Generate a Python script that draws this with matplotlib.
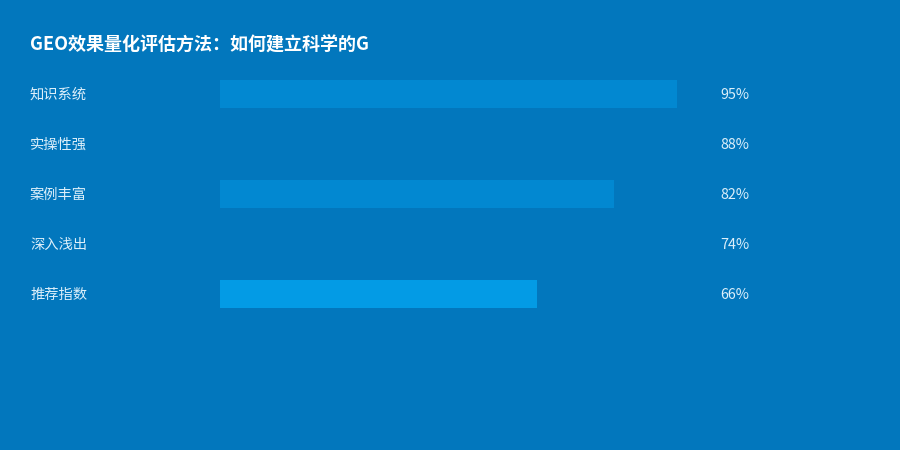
import matplotlib.pyplot as plt
import matplotlib.transforms as mtransforms

plt.rcParams['font.family'] = ['Noto Sans CJK SC', 'DejaVu Sans']

categories = ["知识系统", "实操性强", "案例丰富", "深入浅出", "推荐指数"]
values = [95, 88, 82, 74, 66]
bar_colors = ["#0288D1", "#0277BD", "#0288D1", "#0277BD", "#039BE5"]
title = "GEO效果量化评估方法：如何建立科学的G"

bg = "#0277BD"
W, H = 900, 450

fig = plt.figure(figsize=(9, 4.5), dpi=100, facecolor=bg)
# bar area: x 220..701 px (0..100%), rows centred at y 94..294 px
ax = fig.add_axes([220 / W, 1 - 319 / H, 481 / W, 250 / H])
ax.set_facecolor(bg)
ax.set_xlim(0, 100)
ax.set_ylim(len(categories) - 0.5, -0.5)
ax.axis("off")

ypos = list(range(len(categories)))
ax.barh(ypos, values, height=0.56, color=bar_colors, left=0)

trans = mtransforms.blended_transform_factory(fig.transFigure, ax.transData)
for y, cat, v in zip(ypos, categories, values):
    ax.text(30 / W, y + 0.02, cat, transform=trans, ha="left", va="center",
            fontsize=10.3, color="#DCEFFA")
    ax.text(720 / W, y + 0.02, f"{v}%", transform=trans, ha="left", va="center",
            fontsize=10.3, color="#DCEFFA")

fig.text(30 / W, 1 - 45 / H, title, ha="left", va="center",
         fontsize=13, fontweight="bold", color="white")

fig.savefig("out.png", dpi=100, facecolor=bg)
